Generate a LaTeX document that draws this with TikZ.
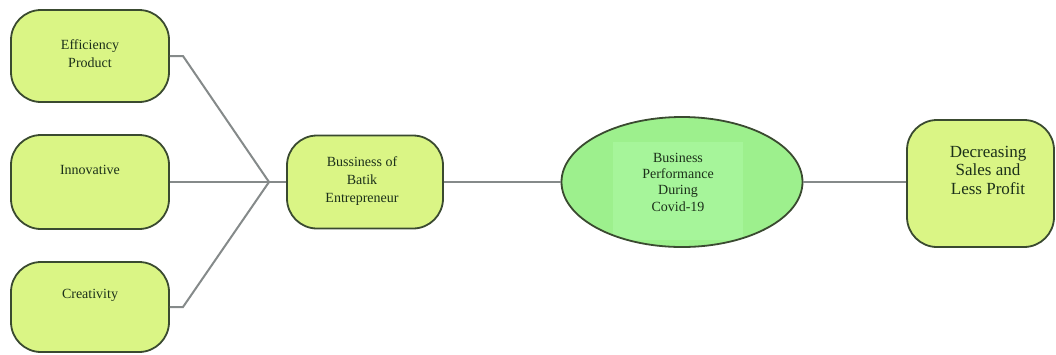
\documentclass[tikz,border=0pt]{standalone}
\usepackage{fontspec}
\setmainfont{Liberation Serif}
\usetikzlibrary{shapes.geometric}
\definecolor{boxfill}{HTML}{DAF585}
\definecolor{ellfill}{HTML}{9DF08D}
\definecolor{ellinner}{HTML}{A6F59A}
\definecolor{edge}{HTML}{3A4A30}
\definecolor{txt}{HTML}{1C301A}
\definecolor{wire}{HTML}{858A8A}
\begin{document}
\begin{tikzpicture}[x=1pt,y=-1pt,
  box/.style={draw=edge, line width=1.8pt, fill=boxfill, rounded corners=30pt, inner sep=0pt},
  lbl/.style={text=txt, align=center, font=\fontsize{14}{18}\selectfont, inner sep=0pt},
  wirel/.style={draw=wire, line width=2pt}]
\useasboundingbox (0,0) rectangle (1056,354);
% left boxes
\node[box, minimum width=158pt, minimum height=92pt] (b1) at (90,56) {};
\node[lbl] (t1) at (90,54) {Efficiency\\Product};
\node[box, minimum width=158pt, minimum height=94pt] (b2) at (90,182) {};
\node[lbl] (t2) at (90,170) {Innovative};
\node[box, minimum width=158pt, minimum height=90pt] (b3) at (90,307) {};
\node[lbl] (t3) at (90,295) {Creativity};
% middle box
\node[box, minimum width=156pt, minimum height=93pt] (b4) at (365,182) {};
\node[lbl] (t4) at (362,181) {Bussiness of\\Batik\\Entrepreneur};
% ellipse
\node[ellipse, fill=ellfill, minimum width=241pt, minimum height=130pt, inner sep=0pt] (e) at (682,182) {};
\begin{scope}
  \clip (e.center) ellipse [x radius=120.5pt, y radius=65pt];
  \fill[ellinner] (613,142) rectangle (743,240);
\end{scope}
\draw[edge, line width=1.8pt] (e.center) ellipse [x radius=120.5pt, y radius=65pt];
\node[lbl, font=\fontsize{14}{16.3}\selectfont] (te) at (678,182) {Business\\Performance\\During\\Covid-19};
% right box
\node[box, minimum width=147pt, minimum height=127pt] (b5) at (980.5,183.5) {};
\node[lbl, font=\fontsize{17}{18.5}\selectfont] (t5) at (988,170) {Decreasing\\Sales and\\Less Profit};
% connectors
\coordinate (j) at (269,182);
\coordinate (k1) at (183,56);
\coordinate (k3) at (183,307);
\draw[wirel] (b1.east |- k1) -- (k1) -- (j);
\draw[wirel] (b2.east) -- (j);
\draw[wirel] (b3.east |- k3) -- (k3) -- (j);
\draw[wirel] (j) -- (b4.west);
\draw[wirel] (b4.east) -- (e.west);
\draw[wirel] (e.east) -- (b5.west |- e.east);
\end{tikzpicture}
\end{document}
